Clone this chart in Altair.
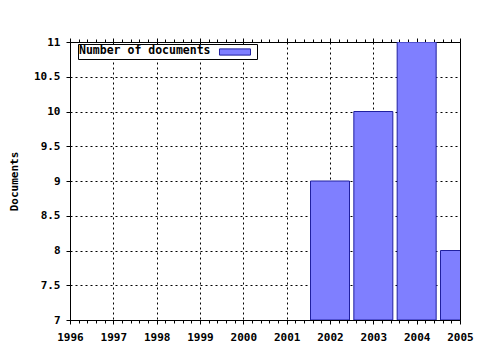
import altair as alt
import pandas as pd

years = [2002, 2003, 2004, 2005]
documents = [9, 10, 11, 8]
series_name = "Number of documents"
year_ticks = list(range(1996, 2006))
y_ticks = [7, 7.5, 8, 8.5, 9, 9.5, 10, 10.5, 11]
minor_x_ticks = [y + i / 5 for y in range(1996, 2005) for i in range(5)] + [2005]
bar_half_width = 0.45
y_base = 7

df = pd.DataFrame({"year": years, "docs": documents, "series": [series_name] * len(years)})
df["x0"] = df["year"] - bar_half_width
df["x1"] = df["year"] + bar_half_width
df["base"] = y_base

FONT = "DejaVu Sans Mono"
is_major = "abs(datum.value - round(datum.value)) < 0.01"

x_scale = alt.Scale(domain=[1996, 2005], nice=False, zero=False)
y_scale = alt.Scale(domain=[7, 11], nice=False, zero=False)

x_axis_bottom = alt.Axis(
    values=minor_x_ticks,
    labelExpr=f"{is_major} ? format(datum.value, 'd') : ''",
    title=None,
    orient="bottom",
    labelFont=FONT, labelFontSize=11, labelFontWeight="bold", labelColor="black",
    labelPadding=7, labelFlush=False, labelOverlap=False,
    tickColor="black",
    tickSize={"condition": {"test": is_major, "value": 4}, "value": 3},
    domainColor="black",
    grid=True, gridColor="black", gridDash=[2, 3],
    gridOpacity={"condition": {"test": is_major, "value": 1}, "value": 0},
)

x_axis_top = alt.Axis(
    values=minor_x_ticks, labels=False, title=None, orient="top",
    tickColor="black",
    tickSize={"condition": {"test": is_major, "value": 4}, "value": 3},
    domainColor="black", grid=False,
)

y_axis = alt.Axis(
    values=y_ticks, format="~g", title="Documents",
    labelFont=FONT, labelFontSize=11, labelFontWeight="bold", labelColor="black",
    labelPadding=6, labelFlush=False,
    tickColor="black", tickSize=4, domainColor="black",
    titleFont=FONT, titleFontSize=11, titleFontWeight="bold", titleColor="black",
    titlePadding=14,
    grid=True, gridColor="black", gridDash=[2, 3],
)

legend = alt.Legend(
    title=series_name, titleOrient="left", orient="none", legendX=8, legendY=2,
    titleFont=FONT, titleFontSize=11.5, titleFontWeight="bold", titleColor="black",
    titlePadding=17, titleBaseline="middle",
    labelExpr="''", labelOffset=14,
    symbolType="M-2.5,-0.5L2.5,-0.5L2.5,0.5L-2.5,0.5Z", symbolSize=154,
    symbolStrokeColor="#2020a0", symbolStrokeWidth=1, symbolOpacity=1,
    strokeColor="black", fillColor="white", padding=1,
)

bars = alt.Chart(df).mark_rect(clip=True, stroke="#2020a0", strokeWidth=1, opacity=1).encode(
    x=alt.X("x0:Q", scale=x_scale, axis=x_axis_bottom),
    x2="x1",
    y=alt.Y("base:Q", scale=y_scale, axis=y_axis),
    y2="docs",
    color=alt.Color("series:N", scale=alt.Scale(domain=[series_name], range=["#7f7fff"]), legend=legend),
)

top = alt.Chart(df).mark_rect(opacity=0).encode(
    x=alt.X("year:Q", scale=x_scale, axis=x_axis_top),
    y=alt.Y("base:Q", scale=y_scale, axis=y_axis),
)

chart = alt.layer(bars, top).resolve_scale(x="independent").resolve_axis(x="independent").properties(
    width=390, height=278,
    autosize=alt.AutoSizeParams(type="none"),
    padding={"left": 70, "top": 42, "right": 20, "bottom": 30},
    background="white",
).configure_view(stroke="black", strokeWidth=1)

chart.save("out.html", embed_options={"renderer": "svg", "actions": False})
